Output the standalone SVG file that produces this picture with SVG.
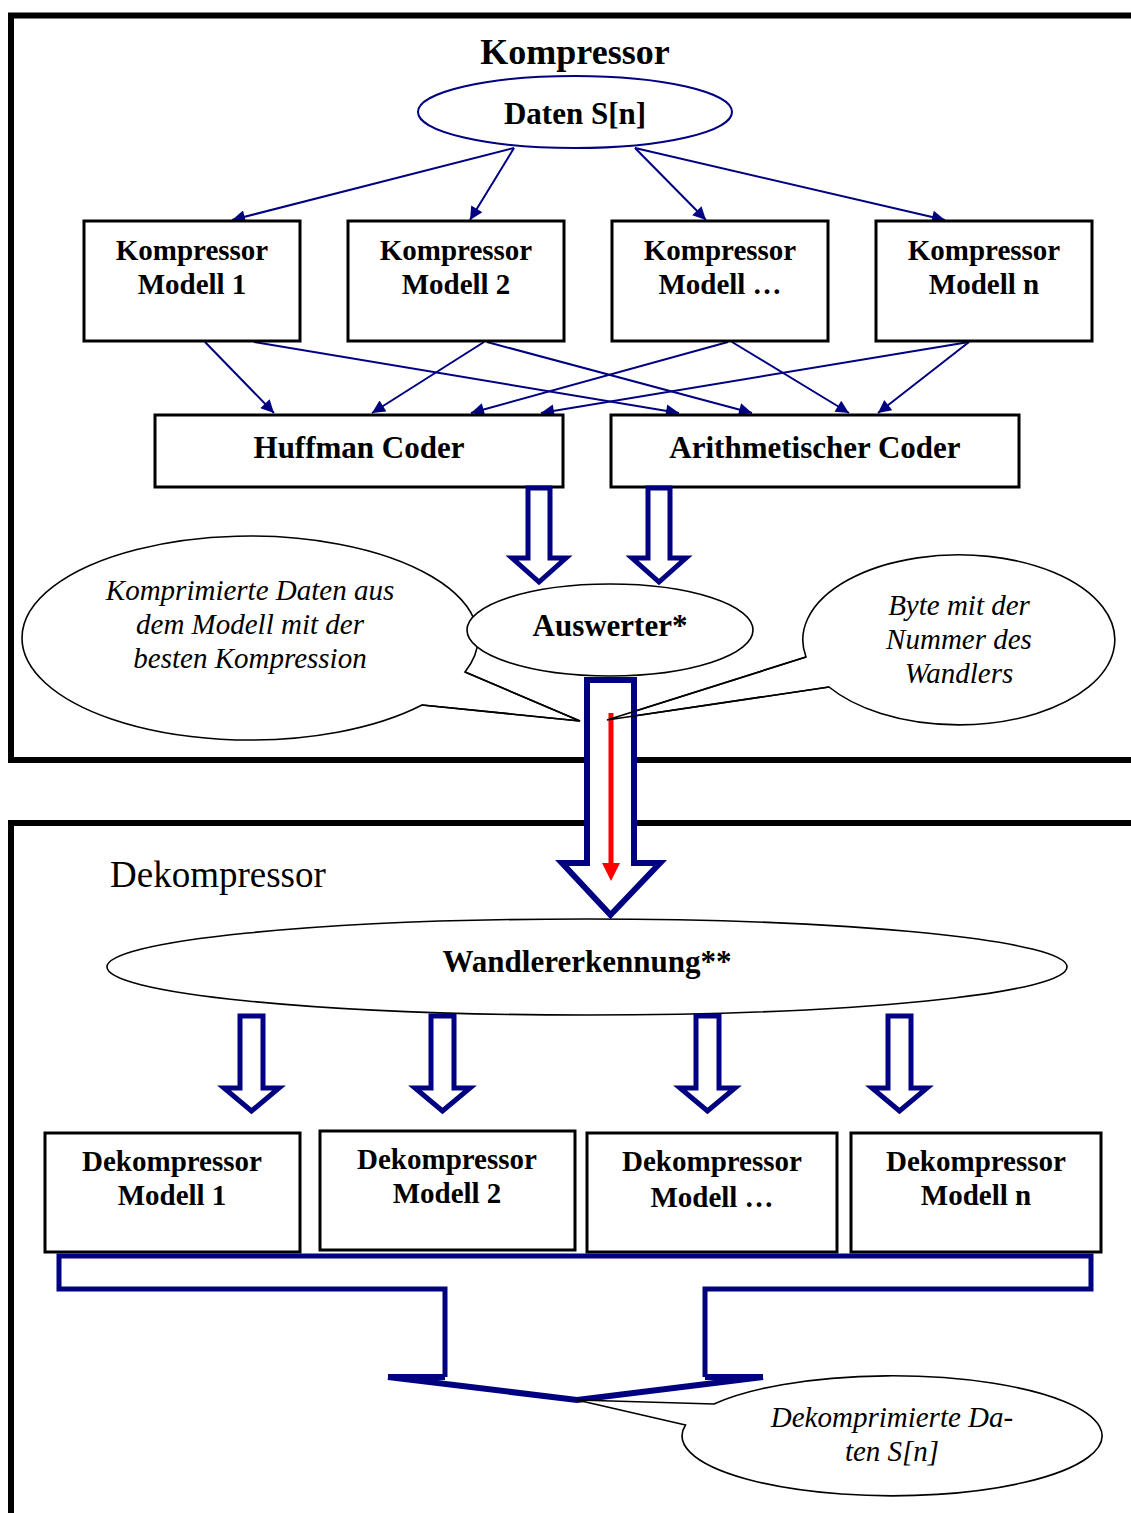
<svg xmlns="http://www.w3.org/2000/svg" width="1131" height="1513" viewBox="0 0 1131 1513">
  <style>
    .frame { fill: none; stroke: #000; stroke-width: 6; }
    .box { fill: #fff; stroke: #000; stroke-width: 3; }
    .oval { fill: #fff; stroke: #000; stroke-width: 1.6; }
    .link { fill: none; stroke: #000080; stroke-width: 2; marker-end: url(#head); }
    .hollow { fill: #fff; stroke: #000080; stroke-width: 5; stroke-linejoin: miter; }
    .callout { fill: #fff; stroke: #000; stroke-width: 1.6; stroke-linejoin: miter; }
    .tail { fill: none; stroke: #000; stroke-width: 1.6; }
    .bold { font-family: "Liberation Serif", "Times New Roman", serif; font-weight: bold; fill: #000; text-anchor: middle; }
    .note { font-family: "Liberation Serif", "Times New Roman", serif; font-style: italic; font-size: 29px; fill: #000; text-anchor: middle; }
    .bx { font-size: 29px; }
    .big { font-size: 31px; }
  </style>
  <defs>
    <marker id="head" viewBox="0 0 10 10" refX="10" refY="5" markerWidth="8" markerHeight="6.5" markerUnits="strokeWidth" orient="auto">
      <path d="M0,0 L10,5 L0,10 Z" fill="#000080"/>
    </marker>
  </defs>

  <!-- section frames -->
  <g id="frames">
    <path class="frame" d="M1131,15.5 H11 V760 H1131"/>
    <path class="frame" d="M1131,823 H11 V1513"/>
  </g>

  <text class="bold" x="575" y="64" font-size="36">Kompressor</text>
  <text x="110" y="887" font-family="Liberation Serif, Times New Roman, serif" font-size="37" fill="#000">Dekompressor</text>

  <!-- thin connectors of the compressor stage -->
  <g id="connectors">
    <line class="link" x1="514" y1="148" x2="232" y2="220"/>
    <line class="link" x1="514" y1="148" x2="470" y2="220"/>
    <line class="link" x1="635" y1="148" x2="706" y2="220"/>
    <line class="link" x1="635" y1="148" x2="945" y2="220"/>

    <line class="link" x1="205" y1="342" x2="274" y2="413"/>
    <line class="link" x1="254" y1="342" x2="679" y2="413"/>
    <line class="link" x1="484" y1="342" x2="372" y2="413"/>
    <line class="link" x1="487" y1="342" x2="752" y2="413"/>
    <line class="link" x1="728" y1="342" x2="471" y2="413"/>
    <line class="link" x1="732" y1="342" x2="849" y2="413"/>
    <line class="link" x1="969" y1="342" x2="541" y2="413"/>
    <line class="link" x1="969" y1="342" x2="878" y2="413"/>
  </g>

  <g id="daten">
    <ellipse cx="575" cy="112" rx="157" ry="36" fill="#fff" stroke="#000080" stroke-width="2"/>
    <text class="bold big" x="575" y="124">Daten S[n]</text>
  </g>

  <g id="kmodell1">
    <rect class="box" x="84" y="221" width="216" height="120"/>
    <text class="bold bx" x="192" y="260">Kompressor</text>
    <text class="bold bx" x="192" y="294">Modell 1</text>
  </g>
  <g id="kmodell2">
    <rect class="box" x="348" y="221" width="216" height="120"/>
    <text class="bold bx" x="456" y="260">Kompressor</text>
    <text class="bold bx" x="456" y="294">Modell 2</text>
  </g>
  <g id="kmodell3">
    <rect class="box" x="612" y="221" width="216" height="120"/>
    <text class="bold bx" x="720" y="260">Kompressor</text>
    <text class="bold bx" x="720" y="294">Modell …</text>
  </g>
  <g id="kmodelln">
    <rect class="box" x="876" y="221" width="216" height="120"/>
    <text class="bold bx" x="984" y="260">Kompressor</text>
    <text class="bold bx" x="984" y="294">Modell n</text>
  </g>

  <g id="huffman">
    <rect class="box" x="155" y="415" width="408" height="72"/>
    <text class="bold big" x="359" y="458">Huffman Coder</text>
  </g>
  <g id="arith">
    <rect class="box" x="611" y="415" width="408" height="72"/>
    <text class="bold big" x="815" y="458">Arithmetischer Coder</text>
  </g>

  <!-- block arrows from the coders -->
  <g id="coder-arrows">
    <polygon class="hollow" points="528,488 550,488 550,558 566,558 539,582 512,558 528,558"/>
    <polygon class="hollow" points="648,488 670,488 670,558 686,558 659,582 632,558 648,558"/>
  </g>

  <g id="note-left">
    <path class="callout" d="M465,672 L580,721 L422,705 A228 102 0 1 1 465,672 Z"/>
    <text class="note" x="250" y="600">Komprimierte Daten aus</text>
    <text class="note" x="250" y="634">dem Modell mit der</text>
    <text class="note" x="250" y="668">besten Kompression</text>
  </g>

  <g id="note-right">
    <path class="callout" d="M806,657 L607,720 L829,687 A156 85 0 1 0 806,657 Z"/>
    <text class="note" x="959" y="615">Byte mit der</text>
    <text class="note" x="959" y="649">Nummer des</text>
    <text class="note" x="959" y="683">Wandlers</text>
  </g>

  <g id="auswerter">
    <ellipse class="oval" cx="610" cy="630" rx="143" ry="46"/>
    <text class="bold big" x="610" y="636">Auswerter*</text>
  </g>

  <!-- transfer arrow between the two stages -->
  <g id="transfer">
    <polygon fill="#fff" stroke="#000080" stroke-width="6" points="587,680 634,680 634,863 660,863 610.5,915 562,863 587,863"/>
    <line x1="611" y1="713" x2="611" y2="866" stroke="#f00" stroke-width="5"/>
    <polygon points="602,863 620,863 611,881" fill="#f00"/>
    <path class="tail" d="M465,672 L580,721 L422,705 M806,657 L607,720 L829,687"/>
  </g>

  <g id="wandler">
    <ellipse class="oval" cx="587" cy="967" rx="480" ry="48"/>
    <text class="bold big" x="587" y="972">Wandlererkennung**</text>
  </g>

  <g id="wandler-arrows">
    <polygon class="hollow" points="240,1016 263,1016 263,1088 279,1088 251.5,1111 224,1088 240,1088"/>
    <polygon class="hollow" points="431,1016 454,1016 454,1088 470,1088 442.5,1111 415,1088 431,1088"/>
    <polygon class="hollow" points="696,1016 719,1016 719,1088 735,1088 707.5,1111 680,1088 696,1088"/>
    <polygon class="hollow" points="888,1016 911,1016 911,1088 927,1088 899.5,1111 872,1088 888,1088"/>
  </g>

  <g id="dmodell1">
    <rect class="box" x="45" y="1133" width="255" height="119"/>
    <text class="bold bx" x="172" y="1171">Dekompressor</text>
    <text class="bold bx" x="172" y="1205">Modell 1</text>
  </g>
  <g id="dmodell2">
    <rect class="box" x="320" y="1131" width="255" height="119"/>
    <text class="bold bx" x="447" y="1169">Dekompressor</text>
    <text class="bold bx" x="447" y="1203">Modell 2</text>
  </g>
  <g id="dmodell3">
    <rect class="box" x="587" y="1133" width="250" height="119"/>
    <text class="bold bx" x="712" y="1171">Dekompressor</text>
    <text class="bold bx" x="712" y="1207">Modell …</text>
  </g>
  <g id="dmodelln">
    <rect class="box" x="851" y="1133" width="250" height="119"/>
    <text class="bold bx" x="976" y="1171">Dekompressor</text>
    <text class="bold bx" x="976" y="1205">Modell n</text>
  </g>

  <!-- output collector -->
  <g id="collector">
    <path d="M445,1377 V1289 H59 V1256 H1091 V1289 H705 V1377" fill="none" stroke="#000080" stroke-width="5"/>
    <path d="M388,1377 H445 M705,1377 H763 M388,1377 L577,1400 L763,1377" fill="none" stroke="#000080" stroke-width="6" stroke-linejoin="miter"/>
  </g>

  <g id="note-bottom">
    <path class="callout" d="M714,1404 L577,1400 L685.5,1425 A210 60 0 1 0 714,1404 Z"/>
    <text class="note" x="892" y="1427">Dekomprimierte Da-</text>
    <text class="note" x="892" y="1461">ten S[n]</text>
  </g>
</svg>
